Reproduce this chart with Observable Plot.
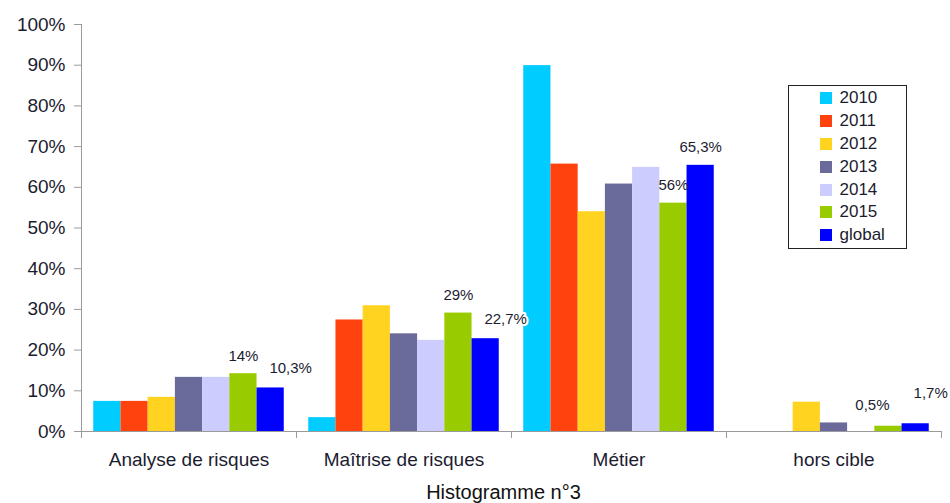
<!DOCTYPE html>
<html><head><meta charset="utf-8">
<script src="https://cdn.jsdelivr.net/npm/d3@7"></script>
<script src="https://cdn.jsdelivr.net/npm/@observablehq/plot@0.6"></script>
<style>
body{margin:0;background:#fff;font-family:"Liberation Sans",Arial,sans-serif;}
#wrap{position:relative;width:950px;height:503px;overflow:hidden;background:#fff;}
#legend{position:absolute;left:788px;top:85px;width:119px;height:164px;border:1.5px solid #222;box-sizing:border-box;padding-top:1px;background:#fff;}
.row{display:flex;align-items:center;height:22.8px;font-size:17px;color:#1c1c30;}
.sw{width:12px;height:12px;margin-left:30.5px;margin-right:8px;}
#caption{position:absolute;left:503.5px;top:482px;transform:translateX(-50%);font-size:20px;line-height:20px;color:#111;white-space:nowrap;}
</style></head>
<body>
<div id="wrap"><div id="chart"></div><div id="legend"></div><div id="caption">Histogramme n°3</div></div>
<script>
const categories = ["Analyse de risques", "Maîtrise de risques", "Métier", "hors cible"];
const series = ["2010", "2011", "2012", "2013", "2014", "2015", "global"];
const colors = ["#00CCFF", "#FF420E", "#FFD320", "#6B6B9B", "#CCCCFF", "#99CC00", "#0000FF"];
// values in %, one array per series, in category order
const v2010 = [7.4, 3.4, 89.9, 0];
const v2011 = [7.4, 27.4, 65.7, 0];
const v2012 = [8.4, 30.9, 54.0, 7.2];
const v2013 = [13.3, 24.0, 60.8, 2.1];
const v2014 = [13.3, 22.4, 64.9, 0];
const v2015 = [14.2, 29.1, 56.1, 1.3];
const vGlobal = [10.7, 22.8, 65.4, 1.9];
const yTicks = [0, 10, 20, 30, 40, 50, 60, 70, 80, 90, 100];
// data labels shown on the chart
const labelCategory = ["Analyse de risques", "Analyse de risques", "Maîtrise de risques", "Maîtrise de risques", "Métier", "Métier", "hors cible", "hors cible"];
const labelSeries = ["2015", "global", "2015", "global", "2015", "global", "2015", "global"];
const labelText = ["14%", "10,3%", "29%", "22,7%", "56%", "65,3%", "0,5%", "1,7%"];

const valueArrays = [v2010, v2011, v2012, v2013, v2014, v2015, vGlobal];
const rows = [];
categories.forEach((c, i) => series.forEach((s, j) => rows.push({category: c, series: s, value: valueArrays[j][i]})));
const valueOf = (c, s) => valueArrays[series.indexOf(s)][categories.indexOf(c)];
const labels = labelText.map((t, i) => ({category: labelCategory[i], series: labelSeries[i], text: t, value: valueOf(labelCategory[i], labelSeries[i])}));

const ink = "#1c1c30";
const lab = (filter, opts) => Plot.text(labels.filter(filter), Object.assign({fx: "category", x: "series", y: "value", text: "text", fontSize: 15, fill: ink}, opts));
const above = new Set(["14%", "29%", "56%", "65,3%"]);
const right = new Set(["10,3%", "22,7%"]);

const plot = Plot.plot({
  width: 950, height: 480,
  marginLeft: 80, marginRight: 9, marginTop: 24, marginBottom: 49,
  style: {fontFamily: "'Liberation Sans', Arial, sans-serif", background: "white", color: ink},
  fx: {domain: categories, padding: 0, label: null},
  x: {domain: series, paddingInner: 0, paddingOuter: 0.45, round: false, axis: null},
  y: {domain: [0, 100], label: null, axis: null},
  color: {domain: series, range: colors},
  marks: [
    Plot.barY(rows, {fx: "category", x: "series", y: "value", fill: "series"}),
    Plot.ruleY([0], {stroke: "#9a9a9a"}),
    Plot.axisY({ticks: yTicks, tickFormat: d => d + "%", tickSize: 7, tickPadding: 9, fontSize: 19, stroke: "#9a9a9a", fill: ink, label: null}),
    Plot.axisFx({anchor: "bottom", tickSize: 0, tickPadding: 21, fontSize: 19, fill: ink, label: null}),
    lab(d => above.has(d.text), {dy: -18}),
    lab(d => right.has(d.text), {dx: 20, dy: -20, stroke: "white", strokeWidth: 4}),
    lab(d => d.text === "0,5%", {dx: -16, dy: -21}),
    lab(d => d.text === "1,7%", {dx: 15, dy: -31})
  ]
});
document.getElementById("chart").appendChild(plot);

// axis line and category boundary ticks from the scales
const fxs = plot.scale("fx"), ys = plot.scale("y");
const y0 = ys.apply(0), yTop = ys.apply(100);
const bounds = fxs.domain.map(d => fxs.apply(d));
bounds.push(fxs.apply(fxs.domain[fxs.domain.length - 1]) + fxs.bandwidth);
const g = d3.select(plot).append("g").attr("stroke", "#9a9a9a").attr("stroke-width", 1);
g.append("line").attr("x1", bounds[0] + 0.5).attr("x2", bounds[0] + 0.5).attr("y1", yTop).attr("y2", y0 + 0.5);
bounds.forEach(b => g.append("line").attr("x1", Math.round(b) + 0.5).attr("x2", Math.round(b) + 0.5).attr("y1", y0).attr("y2", y0 + 7));

// legend from the color scale
const cs = plot.scale("color");
const leg = document.getElementById("legend");
cs.domain.forEach((d, i) => {
  const r = document.createElement("div"); r.className = "row";
  const s = document.createElement("div"); s.className = "sw"; s.style.background = cs.range[i];
  const t = document.createElement("span"); t.textContent = d;
  r.appendChild(s); r.appendChild(t); leg.appendChild(r);
});
</script>
</body></html>
